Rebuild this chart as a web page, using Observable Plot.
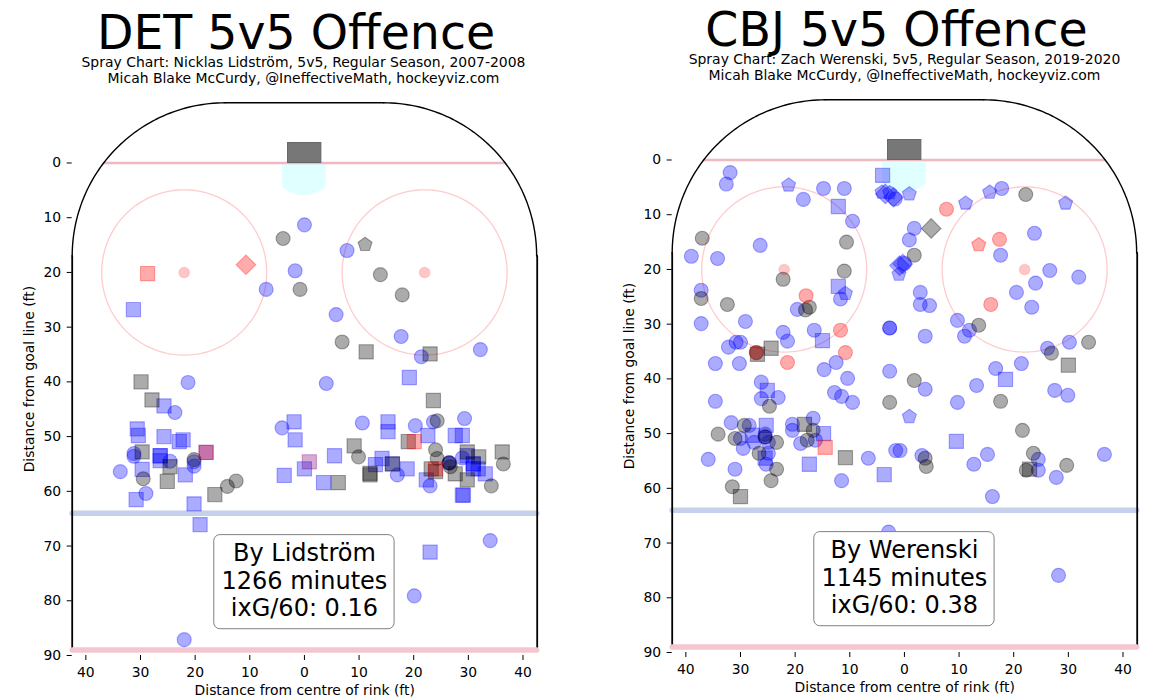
<!DOCTYPE html>
<html>
<head>
<meta charset="utf-8">
<script src="https://cdn.jsdelivr.net/npm/d3@7"></script>
<script src="https://cdn.jsdelivr.net/npm/@observablehq/plot@0.6"></script>
<style>
html,body{margin:0;padding:0;background:#fff;overflow:hidden;width:1174px;height:700px;font-family:"DejaVu Sans",sans-serif;color:#000}
.h{position:absolute;white-space:nowrap;text-align:center;transform:translateX(-50%)}
.t{font-size:47.4px;line-height:40px}
.s{font-size:13.95px;line-height:16px}
.p{position:absolute}
svg{display:block;overflow:visible;background:transparent}
</style>
</head>
<body>
<div class="h t" style="left:296px;top:13px">DET 5v5 Offence</div>
<div class="h s" style="left:303.5px;top:54px">Spray Chart: Nicklas Lidström, 5v5, Regular Season, 2007-2008<br>Micah Blake McCurdy, @IneffectiveMath, hockeyviz.com</div>
<div class="p" id="left" style="left:-0.5px;top:90px"></div>
<div class="h t" style="left:896.5px;top:10px">CBJ 5v5 Offence</div>
<div class="h s" style="left:904.5px;top:51px">Spray Chart: Zach Werenski, 5v5, Regular Season, 2019-2020<br>Micah Blake McCurdy, @IneffectiveMath, hockeyviz.com</div>
<div class="p" id="right" style="left:600.3px;top:87.3px"></div>
<script>
// ---- values: [distance from centre, distance from goal line] in feet
const xTicks = [-40,-30,-20,-10,0,10,20,30,40];
const yTicks = [0,10,20,30,40,50,60,70,80,90];

const detBlueCircle = [[0,11.3],[-1.7,19.7],[-7,23.1],[7.8,16],[5.8,27.7],[-21.3,40.1],[-23.7,45.6],[-31.2,53.1],[-31.2,53.6],[-24.6,54.5],[-20.2,54.6],[-20.2,55.4],[-33.7,56.4],[-29,60.4],[-4.1,48.4],[17.7,31.7],[21.4,35.4],[32.2,34.1],[4,40.3],[10.6,47.5],[20.3,48],[23.6,47.3],[29.3,46.7],[17,57],[23,59],[26.5,54.8],[26.5,54.8],[28.9,53.9],[34,69],[20.1,79.1],[-22,87.1]];
const detBlueSquare = [[-31.3,26.8],[-25.7,44.4],[-30.6,48.6],[-30.4,49.8],[-25.7,50],[-22.9,50.9],[-22.2,50.6],[-18,52.9],[-26.4,53.5],[-26.4,53.5],[-26.4,54.4],[-29.7,56],[-21.8,57],[-30.8,61.5],[-20.2,62.3],[-19.1,66.1],[-1.9,47.3],[-1.7,50.6],[-3.7,57.1],[0,55.9],[19.2,39.2],[15.3,47.3],[15.3,49.1],[22.6,49.8],[27.6,49.8],[28.9,49.8],[5.5,53.5],[14.2,54],[13,55.1],[16.1,55],[18.8,55.9],[22.3,57.9],[29.8,53.5],[30.9,55],[30.9,55],[30.9,55.9],[31.8,55.9],[33.1,56.8],[29.1,60.7],[28.9,60.7],[3.5,58.4],[23,71.1]];
const detGreyCircle = [[-3.9,13.8],[-0.8,23.1],[13.9,20.4],[17.9,24.1],[-29.5,57.7],[-12.5,58.1],[-14.1,59.1],[-20.2,54.2],[6.9,32.7],[24.3,47.1],[9.9,53.7],[24,52.4],[24.3,54],[26.5,54.8],[26.7,55.5],[36.4,55],[34.2,59]];
const detGreySquare = [[-29.9,40],[-27.9,43.3],[-29.7,52.8],[-24.6,55.5],[-25.1,58.2],[-16.4,60.6],[11.3,34.5],[23,34.9],[23.6,43.4],[19,50.9],[9.1,51.7],[16.1,55],[12,57],[12,56.7],[23.2,55.9],[24,56.4],[27.6,56.8],[29.8,52.8],[31.9,53.7],[29.8,57.9],[36.2,52.8],[6.2,58.4]];
const detGreyPentagon = [[11.1,14.9]];
const detRedSquare = [[-28.7,20.2],[-18,52.9],[20.1,50.9],[24,55.9]];
const detRedDiamond = [[-10.7,18.6]];
const detPurpleSquare = [[0.9,54.6]];

const cbjBlueCircle = [[-31.9,2.3],[-32.6,4.4],[-14.8,5.2],[-11,5.2],[-18.5,7.2],[-9.5,11.2],[-26.4,15.6],[-39,17.6],[-34.2,18],[-11.7,25.4],[-37.2,23.8],[-1.7,7.1],[0,18.9],[17.8,5.2],[1.8,12.5],[0.9,14.6],[23.8,13.4],[17.6,17.4],[26.6,20.2],[31.9,21.4],[24,22.5],[20.5,24.2],[2.9,24.2],[2.9,26.4],[4.6,26.6],[23.3,26.9],[9.7,29.3],[11.9,31.1],[11,32.2],[3.8,32.2],[26.2,34.4],[30.2,33.3],[21.4,37.2],[16.7,38.1],[3.8,41.9],[13.2,41.2],[9.7,44.3],[27.5,42.1],[29.9,43],[36.6,53.8],[15.2,53.8],[12.7,55.6],[24.5,54.7],[24.5,56.7],[27.8,58],[16.1,61.5],[3.2,54],[-0.8,53.1],[-37.2,29.9],[-29.1,29.5],[-19.6,27.3],[-22.2,31.5],[-21.4,33.1],[-16.5,31.1],[-32.2,34.2],[-30.8,33.3],[-30,33.3],[-34.6,37.2],[-30.2,37.2],[-12.5,37],[-14.7,38.3],[-10.4,39.9],[-2.7,38.6],[-2.7,30.7],[-2.7,30.7],[-26.2,40.6],[-26.2,43.6],[-23.1,43.4],[-34.6,44.1],[-12.8,42.5],[-11.5,43.2],[-9.5,44.3],[-31.7,48],[-28.4,48.5],[-30,50.9],[-27.5,51.6],[-29.5,52.7],[-25.5,50.1],[-25.5,50.6],[-24.9,51.6],[-24.9,53.6],[-25.3,55.6],[-35.9,54.7],[-31,56.5],[-16.7,47.2],[-20.5,48.3],[-20.5,49.4],[-16.3,51.2],[-19,51.8],[-6.6,54.5],[-1.6,53.1],[-11.5,58.6],[-2.9,68],[28.2,75.9]];
const cbjBlueSquare = [[-4,2.8],[-12.1,8.5],[-12.1,23.1],[-15,33],[18.5,40.1],[9.5,51.4],[-25.1,42.1],[-25.3,48.5],[-27.8,50.3],[-25.5,54.5],[-14.8,50],[-17.4,55.6],[-3.7,57.5]];
const cbjBluePentagon = [[-21.2,4.6],[-4.1,5.9],[-2.7,6],[0.9,6.2],[-1,20.9],[-10.8,24.4],[11.2,7.9],[15.6,5.9],[29.5,7.9],[0.9,46.9]];
const cbjBlueDiamond = [[-3.5,6.2],[-2,6.8],[-0.9,19.3],[-0.3,19]];
const cbjGreyCircle = [[-37,14.3],[-10.6,15],[-22.2,21.8],[-11,20.3],[-37.2,25.3],[-32.4,26.4],[22.2,6.3],[1.8,17.4],[13.6,30.2],[26.9,35.3],[33.7,33.3],[1.8,40.3],[17.6,44.1],[21.6,49.4],[23.6,53.6],[29.7,55.8],[22.3,56.7],[3.8,54.5],[4,56],[-18.1,27.4],[-17.4,26.9],[-27.1,35.2],[-2.7,44.3],[-24.7,45],[-29.3,48.5],[-34.1,50.1],[-31,50.9],[-25.5,50.6],[-23.4,51.6],[-26.6,53.6],[-23.4,56.5],[-24.4,58.6],[-31.5,59.7],[-16.7,49.4],[-17.8,51.2]];
const cbjGreySquare = [[30,37.5],[22.9,56.5],[-24.4,34.4],[-26.9,35.5],[-30,61.5],[-18.3,48.3],[-10.8,54.4]];
const cbjGreyDiamond = [[4.9,12.5]];
const cbjRedCircle = [[-18,24.8],[7.7,9],[17.4,14.5],[15.8,26.4],[-11.7,31.1],[-10.8,35.2],[-27.1,35.2],[-21.4,37]];
const cbjRedSquare = [[-14.5,52.5]];
const cbjRedPentagon = [[13.6,15.5]];

const detNote = ["By Lidström","1266 minutes","ixG/60: 0.16"];
const cbjNote = ["By Werenski","1145 minutes","ixG/60: 0.38"];

// ---- rink geometry, in feet
const cornerArc = (cx, a0, a1) => d3.range(0, 61).map(i => {
  const a = (a0 + (a1 - a0) * i / 60) * Math.PI / 180;
  return [cx + 28 * Math.cos(a), 17 - 28 * Math.sin(a)];
});
const ring = cx => d3.range(0, 121).map(i => {
  const a = i / 120 * 2 * Math.PI;
  return [cx + 15.1 * Math.cos(a), 20 + 15.1 * Math.sin(a)];
});
const crease = d3.range(-4, 4.01, 0.25).map(x => [x, 4.4 + 1.6 * (1 - (x / 4) ** 2)]);

const polygon = (n, factor, start) => ({
  draw(ctx, size) {
    const R = Math.sqrt(size / Math.PI) * factor;
    for (let i = 0; i < n; i++) {
      const a = start + i * 2 * Math.PI / n;
      const px = R * Math.cos(a), py = R * Math.sin(a);
      if (i) ctx.lineTo(px, py); else ctx.moveTo(px, py);
    }
    ctx.closePath();
  }
});
const pentagon = polygon(5, 1.05, -Math.PI / 2);
const diamond = polygon(4, 1.4, -Math.PI / 2);

const RGB = {blue:"#0000ff", grey:"#000000", red:"#ff0000", purple:"#800080"};
const shot = (rows, col, symbol, r = 7) => Plot.dot(rows, {
  x: d => d[0], y: d => d[1], r, symbol,
  fill: RGB[col], fillOpacity: 0.33, stroke: RGB[col], strokeOpacity: 0.33, strokeWidth: 1.1
});
const path = (rows, stroke, strokeWidth, extra = {}) => Plot.line(rows, {
  x: d => d[0], y: d => d[1], stroke, strokeWidth, curve: "linear", ...extra
});

function spray(shots, note) {
  return Plot.plot({
    width: 573, height: 610,
    marginLeft: 71.7, marginRight: 36.3, marginTop: 12.3, marginBottom: 45,
    style: {fontFamily: "'DejaVu Sans'", fontSize: "13.9px", background: "transparent", color: "#000"},
    x: {domain: [-42.5, 42.6]},
    y: {domain: [90, -11]},
    marks: [
      Plot.areaY(crease, {x: d => d[0], y1: 0, y2: d => d[1], fill: "#e0ffff", curve: "linear"}),
      path([[-36.7,0],[36.7,0]], "#f0b8c0", 2.6),
      path([[-42.5,64],[42.5,64]], "#c5d0ea", 5.5),
      path(ring(-22), "#ffcccc", 1.3),
      path(ring(22), "#ffcccc", 1.3),
      Plot.dot([[-22,20],[22,20]], {x: d => d[0], y: d => d[1], r: 5.3, fill: "#ff0000", fillOpacity: 0.22, stroke: "#ff0000", strokeOpacity: 0.1}),
      Plot.rect([0], {x1: -3, x2: 3.1, y1: -3.65, y2: 0, fill: "#777", stroke: "#666", strokeWidth: 1}),
      path(cornerArc(-14.5, 180, 90), "#000", 1.4),
      path(cornerArc(14.5, 90, 0), "#000", 1.4),
      path([[-14.5,-11],[14.5,-11]], "#000", 1.4),
      path([[-42.5,17],[-42.5,89]], "#000", 1.8),
      path([[42.6,17],[42.6,89]], "#000", 1.8),
      path([[-42.5,89],[42.5,89]], "#f4c6cf", 5.5),
      ...shots,
      Plot.rect([0], {x1: -16.5, x2: 16.5, y1: 68, y2: 85.2, fill: "#fff", stroke: "#808080", strokeWidth: 1, rx: 6}),
      Plot.text(note, {x: 0, y: (d, i) => 71.4 + i * 5.03, text: d => d, fontSize: 24, fill: "#000", textAnchor: "middle"}),
      Plot.axisX({ticks: xTicks, tickFormat: d => Math.abs(d), tickSize: 5, tickPadding: 7,
        label: "Distance from centre of rink (ft)", labelAnchor: "center", labelArrow: "none", labelOffset: 39}),
      Plot.axisY({ticks: yTicks, tickSize: 5, tickPadding: 6,
        label: "Distance from goal line (ft)", labelAnchor: "center", labelArrow: "none", labelOffset: 48})
    ]
  });
}

document.getElementById("left").append(spray([
  shot(detBlueCircle, "blue"), shot(detBlueSquare, "blue", "square", 8),
  shot(detGreyCircle, "grey"), shot(detGreySquare, "grey", "square", 8), shot(detGreyPentagon, "grey", pentagon),
  shot(detRedSquare, "red", "square", 8), shot(detRedDiamond, "red", diamond), shot(detPurpleSquare, "purple", "square", 8)
], detNote));

document.getElementById("right").append(spray([
  shot(cbjBlueCircle, "blue"), shot(cbjBlueSquare, "blue", "square", 8), shot(cbjBluePentagon, "blue", pentagon), shot(cbjBlueDiamond, "blue", diamond),
  shot(cbjGreyCircle, "grey"), shot(cbjGreySquare, "grey", "square", 8), shot(cbjGreyDiamond, "grey", diamond),
  shot(cbjRedCircle, "red"), shot(cbjRedSquare, "red", "square", 8), shot(cbjRedPentagon, "red", pentagon)
], cbjNote));
</script>
</body>
</html>
